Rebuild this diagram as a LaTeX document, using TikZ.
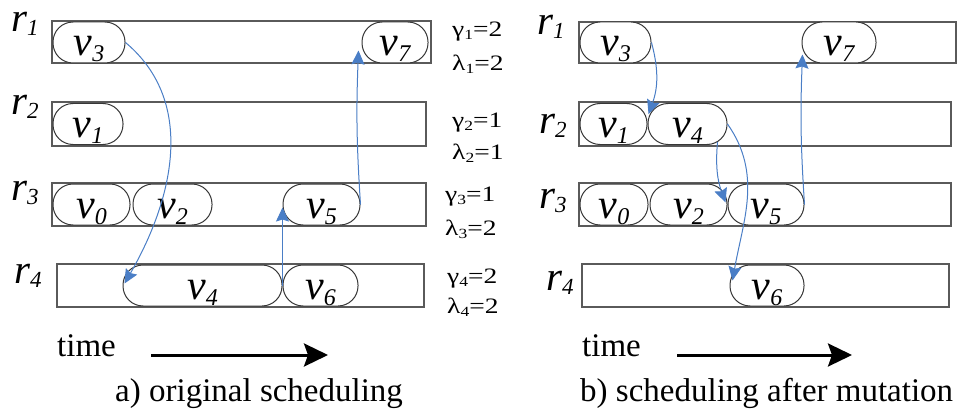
\documentclass[tikz,border=0pt]{standalone}
\usepackage{fontspec}
\usepackage{graphicx}
\setmainfont{Liberation Serif}
\usetikzlibrary{arrows.meta,calc}
\definecolor{arr}{RGB}{74,126,198}
\definecolor{boxc}{RGB}{90,90,90}
\definecolor{nodec}{RGB}{55,55,55}
\newcommand{\myv}[1]{{\fontsize{42}{42}\selectfont\itshape v}\raisebox{-6pt}{\fontsize{24}{24}\selectfont\itshape #1}}
\newcommand{\myr}[1]{{\fontsize{41}{41}\selectfont\itshape r}\raisebox{-4pt}{\fontsize{23}{23}\selectfont\itshape #1}}
\newcommand{\mygl}[3]{\scalebox{1.25}[1]{\fontsize{22}{22}\selectfont #1\raisebox{-3pt}{\fontsize{14}{14}\selectfont #2}=#3}}
\tikzset{
  lane/.style={draw=boxc, line width=1.2pt, inner sep=0pt, fill=white},
  task/.style={draw=nodec, line width=1pt, rounded corners=20pt, inner sep=0pt, fill=white,
               text height=27pt, text depth=0pt, minimum height=41pt},
  dep/.style={draw=arr, line width=1pt, -{Stealth[length=14pt,width=13pt,inset=2pt,fill=arr]}},
  timearr/.style={line width=3pt, -{Stealth[length=24pt,width=23pt,inset=4pt]}},
  lbl/.style={anchor=base west, inner sep=0pt}
}
\begin{document}
\begin{tikzpicture}[x=1pt,y=-1pt]
\useasboundingbox (0,0) rectangle (963,409);
% ---------- left panel lanes ----------
\node[lane, minimum width=379pt, minimum height=42pt] (La1) at (241.5,42) {};
\node[lane, minimum width=374pt, minimum height=44pt] (La2) at (239,124) {};
\node[lane, minimum width=374pt, minimum height=43pt] (La3) at (239,204.5) {};
\node[lane, minimum width=367pt, minimum height=43pt] (La4) at (240.5,285.5) {};
% labels
\node[lbl] (ra1) at (11,32) {\myr{1}};
\node[lbl] (ra2) at (11,115) {\myr{2}};
\node[lbl] (ra3) at (11,200) {\myr{3}};
\node[lbl] (ra4) at (14,283) {\myr{4}};
% tasks
\node[task, minimum width=72pt] (a3) at (89,42.5) {\myv{3}};
\node[task, minimum width=66pt] (a7) at (395,42.5) {\myv{7}};
\node[task, minimum width=70pt] (a1) at (88,124) {\myv{1}};
\node[task, minimum width=77pt] (a0) at (91.5,204.5) {\myv{0}};
\node[task, minimum width=79pt] (a2) at (172.5,204.5) {\myv{2}};
\node[task, minimum width=77pt] (a5) at (321.5,204.5) {\myv{5}};
\node[task, minimum width=159pt] (a4) at (202.5,285.5) {\myv{4}};
\node[task, minimum width=75pt] (a6) at (320.5,285.5) {\myv{6}};
% gamma / lambda
\node[lbl] (g1) at (452,37) {\mygl{γ}{1}{2}};
\node[lbl] (l1) at (452,71) {\mygl{λ}{1}{2}};
\node[lbl] (g2) at (452,128) {\mygl{γ}{2}{1}};
\node[lbl] (l2) at (452,159) {\mygl{λ}{2}{1}};
\node[lbl] (g3) at (445,201) {\mygl{γ}{3}{1}};
\node[lbl] (l3) at (445,235) {\mygl{λ}{3}{2}};
\node[lbl] (g4) at (447,283) {\mygl{γ}{4}{2}};
\node[lbl] (l4) at (447,313) {\mygl{λ}{4}{2}};
% arrows
\draw[dep] (a3.east) to[out=-40,in=60] ($(a4.west)+(2,-2)$);
\draw[dep] (a6.west) -- ($(a5.west)+(0,3)$);
\draw[dep] (a5.east) to[bend left=3] ($(a7.west)+(-3,8)$);
% time
\node[lbl] (timea) at (57,356) {\fontsize{33}{33}\selectfont time};
\coordinate (ta1) at (151,355);
\coordinate (ta2) at (328,355);
\draw[timearr] (ta1) -- (ta2);
\node[lbl] (capa) at (115,401) {\fontsize{33}{33}\selectfont a) original scheduling};
% ---------- right panel lanes ----------
\node[lane, minimum width=377pt, minimum height=41pt] (Lb1) at (767.5,42.5) {};
\node[lane, minimum width=372pt, minimum height=44pt] (Lb2) at (765,124) {};
\node[lane, minimum width=372pt, minimum height=43pt] (Lb3) at (765,204.5) {};
\node[lane, minimum width=367pt, minimum height=43pt] (Lb4) at (765.5,285.5) {};
\node[lbl] (rb1) at (537,35) {\myr{1}};
\node[lbl] (rb2) at (539,133) {\myr{2}};
\node[lbl] (rb3) at (539,208) {\myr{3}};
\node[lbl] (rb4) at (546,290) {\myr{4}};
\node[task, minimum width=71pt] (b3) at (615.5,42.5) {\myv{3}};
\node[task, minimum width=74pt] (b7) at (839,42.5) {\myv{7}};
\node[task, minimum width=67pt] (b1) at (613.5,124) {\myv{1}};
\node[task, minimum width=79pt] (b4) at (687.5,124) {\myv{4}};
\node[task, minimum width=68pt] (b0) at (614,204.5) {\myv{0}};
\node[task, minimum width=77pt] (b2) at (688.5,204.5) {\myv{2}};
\node[task, minimum width=76pt] (b5) at (766,204.5) {\myv{5}};
\node[task, minimum width=74pt] (b6) at (767,285.5) {\myv{6}};
\draw[dep] (b3.east) to[out=-75,in=70] ($(b4.west)+(1,-10)$);
\draw[dep] ($(b4.south)+(30,-3)$) to[out=-95,in=110] ($(b5.west)+(-2,-2)$);
\draw[dep] (b4.east) to[out=-55,in=80] ($(b6.west)+(3,-5)$);
\draw[dep] (b5.east) to[bend left=3] ($(b7.west)+(1,12)$);
\node[lbl] (timeb) at (582,356) {\fontsize{33}{33}\selectfont time};
\coordinate (tb1) at (677,355);
\coordinate (tb2) at (852,355);
\draw[timearr] (tb1) -- (tb2);
\node[lbl] (capb) at (580,401) {\fontsize{33}{33}\selectfont b) scheduling after mutation};
\end{tikzpicture}
\end{document}
